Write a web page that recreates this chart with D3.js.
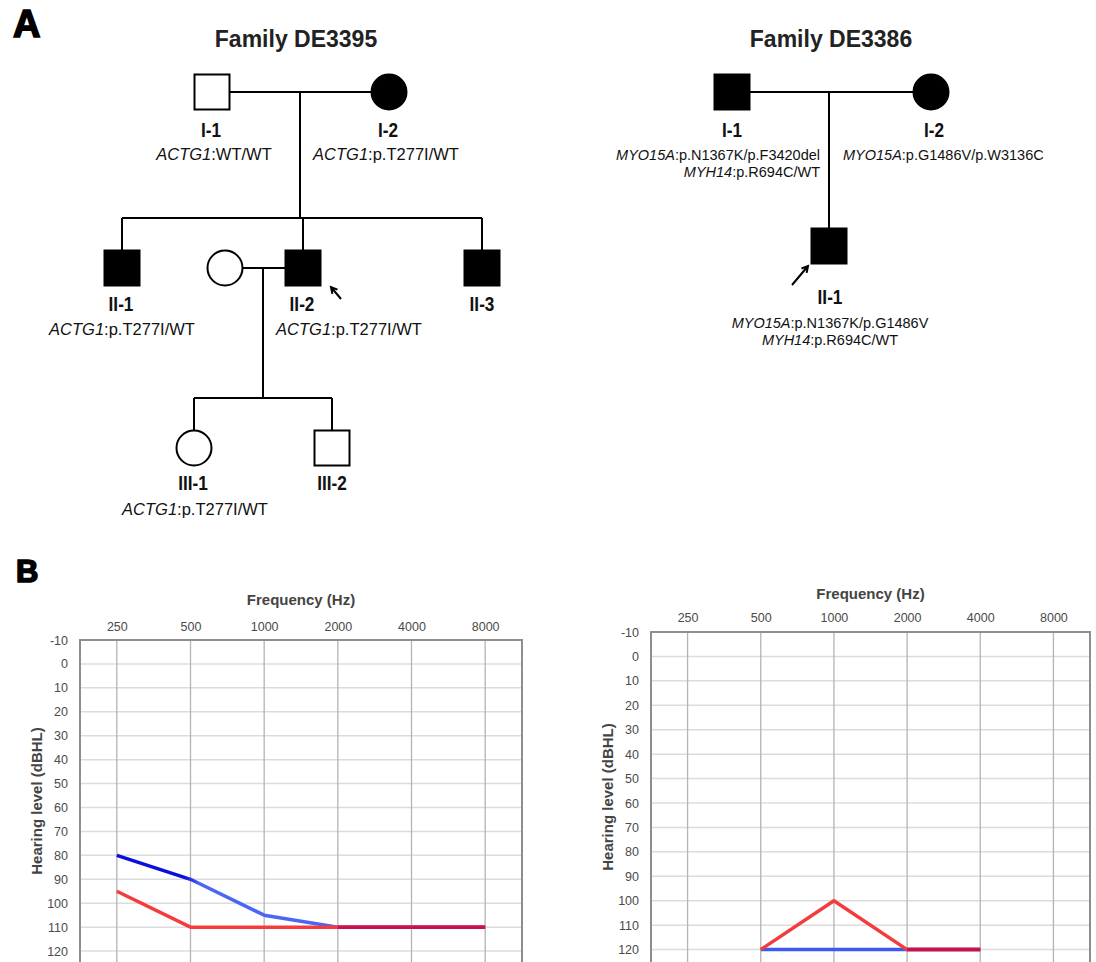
<!DOCTYPE html>
<html><head><meta charset="utf-8">
<script src="https://cdn.jsdelivr.net/npm/d3@7"></script>
<style>
html,body{margin:0;padding:0;background:#fff;}
svg{display:block;font-family:"Liberation Sans",Arial,Helvetica,sans-serif;}
</style></head><body>
<svg id="fig" width="1096" height="962"></svg>
<script>
// ================= DATA =================
const frequencies = ["250", "500", "1000", "2000", "4000", "8000"];
const hearingTicks = [-10, 0, 10, 20, 30, 40, 50, 60, 70, 80, 90, 100, 110, 120];

// Audiogram, family DE3395 proband (II-2)
const de3395Blue = [80, 90, 105, 110, 110, 110];
const de3395Red  = [95, 110, 110, 110, 110, 110];
// Audiogram, family DE3386 proband (II-1)
const de3386Blue = [null, 120, 120, 120, 120, null];
const de3386Red  = [null, 120, 100, 120, 120, null];

const panelLetters = ["A", "B"];
const familyTitles = ["Family DE3395", "Family DE3386"];
const axisTitles = ["Frequency (Hz)", "Hearing level (dBHL)"];

// Pedigree members: id, sex, affected, genotype lines [gene, variant]
const de3395Members = [
  {id: "I-1", sex: "M", affected: false, geno: [["ACTG1", ":WT/WT"]]},
  {id: "I-2", sex: "F", affected: true,  geno: [["ACTG1", ":p.T277I/WT"]]},
  {id: "II-1", sex: "M", affected: true, geno: [["ACTG1", ":p.T277I/WT"]]},
  {id: "II-S", sex: "F", affected: false, geno: [], noLabel: true},
  {id: "II-2", sex: "M", affected: true, geno: [["ACTG1", ":p.T277I/WT"]], proband: true},
  {id: "II-3", sex: "M", affected: true, geno: []},
  {id: "III-1", sex: "F", affected: false, geno: [["ACTG1", ":p.T277I/WT"]]},
  {id: "III-2", sex: "M", affected: false, geno: []}
];
const de3386Members = [
  {id: "I-1", sex: "M", affected: true, geno: [["MYO15A", ":p.N1367K/p.F3420del"], ["MYH14", ":p.R694C/WT"]]},
  {id: "I-2", sex: "F", affected: true, geno: [["MYO15A", ":p.G1486V/p.W3136C"]]},
  {id: "II-1", sex: "M", affected: true, geno: [["MYO15A", ":p.N1367K/p.G1486V"], ["MYH14", ":p.R694C/WT"]], proband: true}
];
const de3395Unions = [
  {a: "I-1", b: "I-2", children: ["II-1", "II-2", "II-3"]},
  {a: "II-S", b: "II-2", children: ["III-1", "III-2"]}
];
const de3386Unions = [
  {a: "I-1", b: "I-2", children: ["II-1"]}
];

// ================= LAYOUT (positions only) =================
const SYM = 35;           // symbol size
const layout3395 = {
  title: [296, 39],
  nodes: {
    "I-1":  {x: 212, y: 92, lx: 211, ly: 130, tx: 214, ty: 154, anchor: "middle"},
    "I-2":  {x: 389, y: 92, lx: 388, ly: 130, tx: 386, ty: 154, anchor: "middle"},
    "II-1": {x: 122, y: 268, lx: 121, ly: 304, tx: 122, ty: 329, anchor: "middle"},
    "II-S": {x: 225, y: 268},
    "II-2": {x: 303, y: 268, lx: 302, ly: 304, tx: 349, ty: 329, anchor: "middle"},
    "II-3": {x: 482, y: 268, lx: 482, ly: 304},
    "III-1": {x: 194, y: 448, lx: 193, ly: 483, tx: 195, ty: 509, anchor: "middle"},
    "III-2": {x: 332, y: 448, lx: 332, ly: 483}
  },
  unions: [{dropX: 300, sibY: 218}, {dropX: 263, sibY: 398}],
  arrows: {"II-2": [[341, 299], [331, 287]]}
};
const layout3386 = {
  title: [831, 39],
  nodes: {
    "I-1":  {x: 732, y: 92, lx: 732, ly: 130, tx: 820, ty: 155, anchor: "end"},
    "I-2":  {x: 931, y: 92, lx: 934, ly: 130, tx: 843, ty: 155, anchor: "start"},
    "II-1": {x: 829, y: 246, lx: 830, ly: 297, tx: 830, ty: 323, anchor: "middle"}
  },
  unions: [{dropX: 829, sibY: null}],
  arrows: {"II-1": [[792, 285], [808, 266]]}
};

// ================= DRAW =================
const svg = d3.select("#fig");

// panel letters
svg.append("text").attr("x", 13).attr("y", 37).attr("font-size", 38).attr("font-weight", "bold")
  .attr("stroke", "#000").attr("stroke-width", 1.6).text(panelLetters[0]);
svg.append("text").attr("x", 16).attr("y", 582).attr("font-size", 31).attr("font-weight", "bold")
  .attr("stroke", "#000").attr("stroke-width", 1.6).text(panelLetters[1]);

function drawPedigree(members, unions, lay, title, genoSize, genoGap) {
  const g = svg.append("g");
  const N = lay.nodes;
  g.append("text").attr("x", lay.title[0]).attr("y", lay.title[1]).attr("dy", "0.35em")
    .attr("text-anchor", "middle").attr("font-size", 23).attr("font-weight", "bold")
    .attr("fill", "#222").text(title);

  const lines = g.append("g").attr("stroke", "#000").attr("stroke-width", 2).attr("fill", "none");
  unions.forEach((u, i) => {
    const ul = lay.unions[i];
    const A = N[u.a], B = N[u.b];
    const left = A.x < B.x ? A : B, right = A.x < B.x ? B : A;
    const ya = A.y;
    lines.append("line").attr("x1", left.x + SYM / 2).attr("x2", right.x - SYM / 2).attr("y1", ya).attr("y2", ya);
    const kids = u.children.map(c => N[c]);
    if (ul.sibY === null) {
      lines.append("line").attr("x1", ul.dropX).attr("x2", ul.dropX).attr("y1", ya).attr("y2", kids[0].y - SYM / 2);
    } else {
      lines.append("line").attr("x1", ul.dropX).attr("x2", ul.dropX).attr("y1", ya).attr("y2", ul.sibY);
      const xs = kids.map(k => k.x);
      lines.append("line").attr("x1", d3.min(xs)).attr("x2", d3.max(xs)).attr("y1", ul.sibY).attr("y2", ul.sibY);
      kids.forEach(k => lines.append("line").attr("x1", k.x).attr("x2", k.x).attr("y1", ul.sibY).attr("y2", k.y - SYM / 2));
    }
  });

  members.forEach(m => {
    const p = N[m.id];
    const fill = m.affected ? "#000" : "#fff";
    if (m.sex === "M") {
      g.append("rect").attr("x", p.x - SYM / 2).attr("y", p.y - SYM / 2).attr("width", SYM).attr("height", SYM)
        .attr("fill", fill).attr("stroke", "#000").attr("stroke-width", 2);
    } else {
      g.append("circle").attr("cx", p.x).attr("cy", p.y).attr("r", SYM / 2)
        .attr("fill", fill).attr("stroke", "#000").attr("stroke-width", 2);
    }
    if (!m.noLabel) {
      g.append("text").attr("transform", `translate(${p.lx},${p.ly}) scale(0.86,1)`).attr("dy", "0.35em")
        .attr("text-anchor", "middle")
        .attr("font-size", 20).attr("font-weight", "bold").attr("fill", "#111").text(m.id);
    }
    m.geno.forEach((gl, j) => {
      const t = g.append("text").attr("x", p.tx).attr("y", p.ty + j * genoGap).attr("dy", "0.35em")
        .attr("text-anchor", p.anchor).attr("font-size", genoSize).attr("fill", "#111");
      t.append("tspan").attr("font-style", "italic").text(gl[0]);
      t.append("tspan").text(gl[1]);
    });
    if (m.proband && lay.arrows[m.id]) {
      const [s, e] = lay.arrows[m.id];
      const ang = Math.atan2(e[1] - s[1], e[0] - s[0]);
      const hl = 7, ha = 0.5;
      const p1 = [e[0] - hl * Math.cos(ang - ha), e[1] - hl * Math.sin(ang - ha)];
      const p2 = [e[0] - hl * Math.cos(ang + ha), e[1] - hl * Math.sin(ang + ha)];
      g.append("path").attr("d", `M${s[0]},${s[1]}L${e[0]},${e[1]}M${p1[0]},${p1[1]}L${e[0]},${e[1]}L${p2[0]},${p2[1]}`)
        .attr("stroke", "#000").attr("stroke-width", 2).attr("fill", "none");
    }
  });
}

drawPedigree(de3395Members, de3395Unions, layout3395, familyTitles[0], 16.5, 17);
drawPedigree(de3386Members, de3386Unions, layout3386, familyTitles[1], 14.5, 17);

// ---------- Audiograms ----------
const RED = "#f43c3c", OVERLAP = "#c9124b";
function drawAudiogram(cfg, blue, red, blueStyle) {
  const x = d3.scalePoint().domain(frequencies).range([cfg.left, cfg.right]).padding(0.5);
  const y = d3.scaleLinear().domain([-10, 130]).range([cfg.top, cfg.top + 14 * cfg.step]);
  const g = svg.append("g");
  const bottom = y(130);
  // horizontal grid
  g.append("g").selectAll("line").data(hearingTicks.concat([130])).join("line")
    .attr("x1", cfg.left).attr("x2", cfg.right).attr("y1", d => y(d)).attr("y2", d => y(d))
    .attr("stroke", "#dcdcdc").attr("stroke-width", 1.5);
  // vertical grid
  g.append("g").selectAll("line").data(frequencies).join("line")
    .attr("x1", d => x(d)).attr("x2", d => x(d)).attr("y1", cfg.top).attr("y2", bottom)
    .attr("stroke", "#b4b4b4").attr("stroke-width", 1.3);
  // border
  g.append("rect").attr("x", cfg.left).attr("y", cfg.top).attr("width", cfg.right - cfg.left)
    .attr("height", bottom - cfg.top).attr("fill", "none").attr("stroke", "#8e8e8e").attr("stroke-width", 2);

  // axes
  const xa = g.append("g").attr("transform", `translate(0,${cfg.top - cfg.xLabGap})`)
    .call(d3.axisTop(x).tickSize(0).tickPadding(0));
  xa.select(".domain").remove();
  xa.selectAll("text").attr("font-size", 12.5).attr("fill", "#4a4a4a")
    .attr("font-family", "'Liberation Sans',Arial,sans-serif").attr("dy", "0.35em");
  const ya = g.append("g").attr("transform", `translate(${cfg.left},0)`)
    .call(d3.axisLeft(y).tickValues(hearingTicks).tickSize(0).tickPadding(12).tickFormat(d => String(d)));
  ya.select(".domain").remove();
  ya.selectAll("text").attr("font-size", 12.5).attr("fill", "#4a4a4a")
    .attr("font-family", "'Liberation Sans',Arial,sans-serif");

  g.append("text").attr("x", (cfg.left + cfg.right) / 2).attr("y", cfg.top - cfg.titleGap).attr("dy", "0.35em")
    .attr("text-anchor", "middle").attr("font-size", 15).attr("font-weight", "bold").attr("fill", "#444")
    .text(axisTitles[0]);
  g.append("text").attr("transform", `translate(${cfg.left - 43},${cfg.ytitleY}) rotate(-90)`).attr("dy", "0.35em")
    .attr("text-anchor", "middle").attr("font-size", 15).attr("font-weight", "bold").attr("fill", "#444")
    .text(axisTitles[1]);

  const pts = s => frequencies.map((f, i) => ({f, v: s[i]}));
  const line = d3.line().defined(d => d.v !== null).x(d => x(d.f)).y(d => y(d.v));
  // blue
  g.append("path").datum(pts(blue)).attr("d", line).attr("fill", "none")
    .attr("stroke", blueStyle(g, x)).attr("stroke-width", 3.5).attr("stroke-linejoin", "round");
  // red
  g.append("path").datum(pts(red)).attr("d", line).attr("fill", "none")
    .attr("stroke", RED).attr("stroke-width", 3.5).attr("stroke-linejoin", "round");
  // overlap segments (both ears identical)
  for (let i = 0; i < frequencies.length - 1; i++) {
    if (blue[i] !== null && blue[i + 1] !== null && blue[i] === red[i] && blue[i + 1] === red[i + 1]) {
      g.append("path").datum([{f: frequencies[i], v: red[i]}, {f: frequencies[i + 1], v: red[i + 1]}])
        .attr("d", line).attr("fill", "none").attr("stroke", OVERLAP).attr("stroke-width", 3.5);
    }
  }
}

drawAudiogram({left: 80, right: 522, top: 640, step: 23.93, xLabGap: 13, titleGap: 40, ytitleY: 801},
  de3395Blue, de3395Red, (g, x) => {
    const id = "blueGradL";
    const lg = svg.append("defs").append("linearGradient").attr("id", id).attr("gradientUnits", "userSpaceOnUse")
      .attr("x1", x("250")).attr("x2", x("1000")).attr("y1", 0).attr("y2", 0);
    lg.append("stop").attr("offset", "0%").attr("stop-color", "#0a10da");
    lg.append("stop").attr("offset", "46%").attr("stop-color", "#0a10da");
    lg.append("stop").attr("offset", "56%").attr("stop-color", "#4a66f6");
    lg.append("stop").attr("offset", "100%").attr("stop-color", "#4a66f6");
    return `url(#${id})`;
  });
drawAudiogram({left: 651, right: 1090, top: 632, step: 24.43, xLabGap: 14, titleGap: 38, ytitleY: 797},
  de3386Blue, de3386Red, () => "#3a5af2");
</script>
</body></html>
